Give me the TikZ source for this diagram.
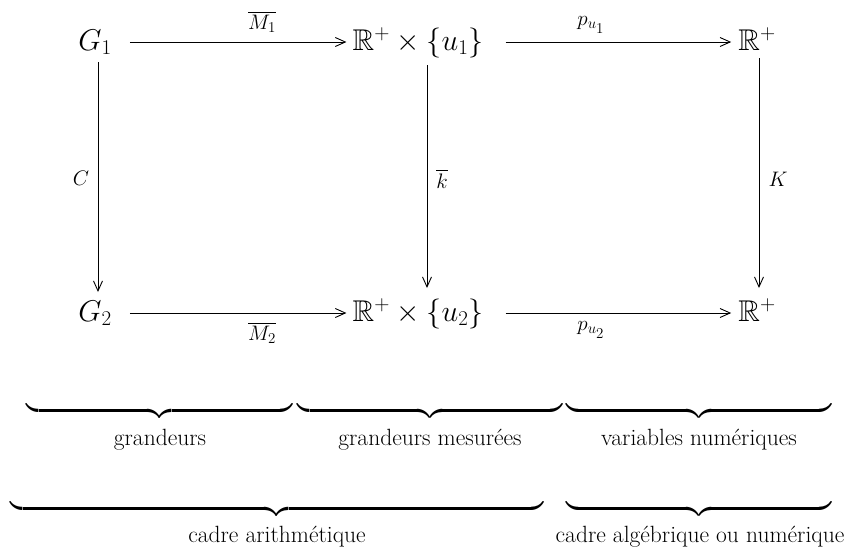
\RequirePackage{fix-cm}
\documentclass[tikz,border=0pt]{standalone}
\usepackage{amssymb}
\usetikzlibrary{arrows.meta}
\begin{document}
\begin{tikzpicture}[x=1pt,y=-1pt,
  obj/.style={inner sep=0pt, anchor=base, font=\fontsize{30}{36}\selectfont},
  lab/.style={inner sep=0pt, font=\fontsize{30}{36}\selectfont},
  txt/.style={inner sep=0pt, font=\fontsize{23.5}{28}\selectfont},
  brc/.style={inner sep=0pt, anchor=north, font=\fontsize{27}{32}\selectfont},
  arr/.style={line width=0.9pt, -{Straight Barb[length=10pt,width=9pt]}}]
\useasboundingbox (0,0) rectangle (852,547);
% objects
\node[obj] (G1) at (95,50) {$G_1$};
\node[obj] (R1) at (418,50) {$\mathbb{R}^+\times\{u_1\}$};
\node[obj] (P1) at (757,50) {$\mathbb{R}^+$};
\node[obj] (G2) at (95,321) {$G_2$};
\node[obj] (R2) at (418,321) {$\mathbb{R}^+\times\{u_2\}$};
\node[obj] (P2) at (757,321) {$\mathbb{R}^+$};
% horizontal arrows
\draw[arr, shorten <=18pt, shorten >=6pt] ([yshift=8pt]G1.base east) -- ([yshift=8pt]R1.base west);
\draw[arr, shorten <=22pt, shorten >=7pt] ([yshift=8pt]R1.base east) -- ([yshift=8pt]P1.base west);
\draw[arr, shorten <=18pt, shorten >=6pt] ([yshift=8pt]G2.base east) -- ([yshift=8pt]R2.base west);
\draw[arr, shorten <=22pt, shorten >=7pt] ([yshift=8pt]R2.base east) -- ([yshift=8pt]P2.base west);
% vertical arrows
\draw[arr] ([xshift=3pt,yshift=-12pt]G1.base) -- ([xshift=3pt,yshift=29pt]G2.base);
\draw[arr] ([xshift=9pt,yshift=-15pt]R1.base) -- ([xshift=9pt,yshift=33pt]R2.base);
\draw[arr] ([xshift=2pt,yshift=-8pt]P1.base) -- ([xshift=2pt,yshift=33pt]P2.base);
% labels
\node[lab] (lM1) at (262,22) {$\scriptstyle\overline{M_1}$};
\node[lab] (lp1) at (591,25) {$\scriptstyle p_{u_1}$};
\node[lab] (lM2) at (262,333) {$\scriptstyle\overline{M_2}$};
\node[lab] (lp2) at (591,330) {$\scriptstyle p_{u_2}$};
\node[lab] (lC) at (81,178) {$\scriptstyle C$};
\node[lab] (lk) at (442,179) {$\scriptstyle\overline{k}$};
\node[lab] (lK) at (778,179) {$\scriptstyle K$};
% braces row 1
\node[brc] (b1) at (160,406) {$\underbrace{\hbox to 266pt{}}$};
\node[brc] (b2) at (430,406) {$\underbrace{\hbox to 265pt{}}$};
\node[brc] (b3) at (699,406) {$\underbrace{\hbox to 266pt{}}$};
\node[txt] (t1) at (160,440) {grandeurs};
\node[txt] (t2) at (430,440) {grandeurs mesurées};
\node[txt] (t3) at (699,440) {variables numériques};
% braces row 2
\node[brc] (b4) at (277,504) {$\underbrace{\hbox to 533pt{}}$};
\node[brc] (b5) at (699,504) {$\underbrace{\hbox to 266pt{}}$};
\node[txt] (t4) at (277,537) {cadre arithmétique};
\node[txt] (t5) at (700,537) {cadre algébrique ou numérique};
\end{tikzpicture}
\end{document}
